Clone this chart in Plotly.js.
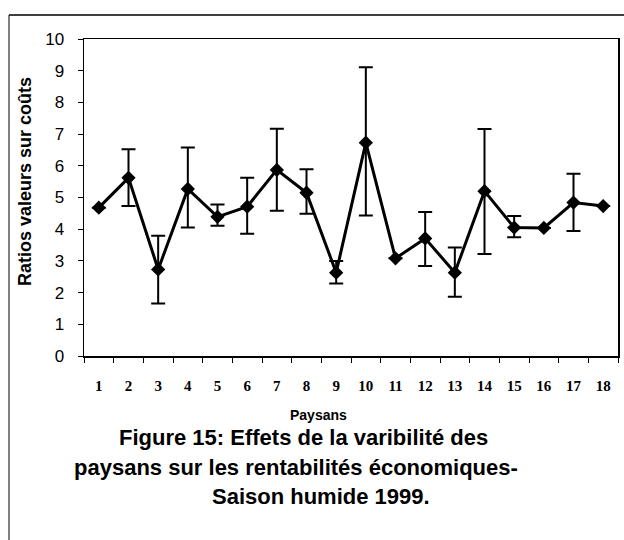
<!DOCTYPE html>
<html>
<head>
<meta charset="utf-8">
<script src="https://cdn.plot.ly/plotly-3.0.1.min.js"></script>
<style>html,body{margin:0;padding:0;background:#fff;}#chart{width:624px;height:540px;}</style>
</head>
<body>
<div id="chart"></div>
<script>
// Data
const paysans = ['1','2','3','4','5','6','7','8','9','10','11','12','13','14','15','16','17','18'];
const ratios  = [4.68, 5.62, 2.73, 5.27, 4.39, 4.71, 5.87, 5.15, 2.63, 6.73, 3.08, 3.71, 2.63, 5.20, 4.05, 4.04, 4.84, 4.73];
const hautErreur = [4.68, 6.52, 3.79, 6.58, 4.78, 5.62, 7.17, 5.89, 3.00, 9.11, 3.08, 4.54, 3.42, 7.16, 4.42, 4.04, 5.75, 4.73];
const basErreur  = [4.68, 4.73, 1.66, 4.05, 4.11, 3.86, 4.58, 4.49, 2.29, 4.43, 3.08, 2.84, 1.87, 3.22, 3.75, 4.04, 3.94, 4.73];
const yTicks = [0,1,2,3,4,5,6,7,8,9,10];

const errPlus  = hautErreur.map((h, i) => h - ratios[i]);
const errMinus = ratios.map((v, i) => v - basErreur[i]);

const trace = {
  x: paysans,
  y: ratios,
  type: 'scatter',
  mode: 'lines+markers',
  line: {color: '#000', width: 3},
  marker: {symbol: 'diamond', size: 11, color: '#000'},
  error_y: {
    type: 'data', symmetric: false,
    array: errPlus, arrayminus: errMinus,
    color: '#000', thickness: 2, width: 7
  },
  showlegend: false,
  hoverinfo: 'x+y'
};

const W = 624, H = 540, L = 84, R = 6, T = 39, B = 184;
const pw = W - L - R, ph = H - T - B;
const px = x => (x - L) / pw;
const py = y => (H - B - y) / ph;

const layout = {
  width: W, height: H,
  margin: {l: L, r: R, t: T, b: B, autoexpand: false},
  paper_bgcolor: '#fff', plot_bgcolor: '#fff',
  font: {family: 'Liberation Sans, Arial, sans-serif', color: '#000'},
  xaxis: {
    type: 'category',
    range: [-0.5, paysans.length - 0.5],
    autorange: false,
    automargin: false,
    tickson: 'boundaries',
    ticks: 'outside', ticklen: 5, tickwidth: 1, tickcolor: '#000',
    showline: true, linecolor: '#000', linewidth: 1.5, mirror: true,
    showgrid: false, zeroline: false,
    tickfont: {family: 'Liberation Serif, Times New Roman, serif', size: 15, color: '#000', weight: 'bold'},
    ticklabelstandoff: 15
  },
  yaxis: {
    range: [0, 10],
    autorange: false,
    automargin: false,
    tickvals: yTicks,
    ticktext: yTicks.map(String),
    ticks: 'outside', ticklen: 5, tickwidth: 1, tickcolor: '#000',
    showline: true, linecolor: '#000', linewidth: 1.5, mirror: true,
    showgrid: false, zeroline: false,
    tickfont: {family: 'Liberation Sans, Arial, sans-serif', size: 17, color: '#000'},
    ticklabelstandoff: 10
  },
  shapes: [
    {type: 'line', xref: 'paper', yref: 'paper', x0: px(9), x1: px(9), y0: py(15), y1: py(540), line: {color: '#000', width: 1}},
    {type: 'line', xref: 'paper', yref: 'paper', x0: px(9), x1: px(624), y0: py(15), y1: py(15), line: {color: '#000', width: 1.5}}
  ],
  annotations: [
    {text: 'Ratios valeurs sur coûts', xref: 'paper', yref: 'paper', x: px(25), y: py(182), textangle: -90,
     showarrow: false, xanchor: 'center', yanchor: 'middle',
     font: {family: 'Liberation Sans, Arial, sans-serif', size: 18, weight: 'bold', color: '#000'}},
    {text: 'Paysans', xref: 'paper', yref: 'paper', x: px(318), y: py(415),
     showarrow: false, xanchor: 'center', yanchor: 'middle',
     font: {family: 'Liberation Sans, Arial, sans-serif', size: 14, weight: 'bold', color: '#000'}},
    {text: 'Figure 15: Effets de la varibilité des', xref: 'paper', yref: 'paper', x: px(303), y: py(437),
     showarrow: false, xanchor: 'center', yanchor: 'middle',
     font: {family: 'Liberation Sans, Arial, sans-serif', size: 22, weight: 'bold', color: '#000'}},
    {text: 'paysans sur les rentabilités économiques-', xref: 'paper', yref: 'paper', x: px(296), y: py(467),
     showarrow: false, xanchor: 'center', yanchor: 'middle',
     font: {family: 'Liberation Sans, Arial, sans-serif', size: 22, weight: 'bold', color: '#000'}},
    {text: 'Saison humide 1999.', xref: 'paper', yref: 'paper', x: px(321), y: py(497),
     showarrow: false, xanchor: 'center', yanchor: 'middle',
     font: {family: 'Liberation Sans, Arial, sans-serif', size: 22, weight: 'bold', color: '#000'}}
  ]
};

Plotly.newPlot('chart', [trace], layout, {displayModeBar: false, staticPlot: true});
</script>
</body>
</html>
